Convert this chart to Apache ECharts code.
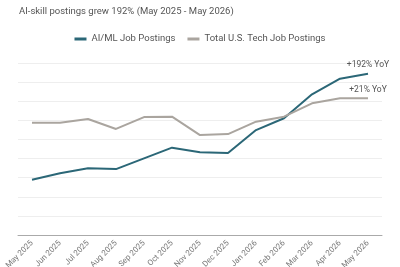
<!DOCTYPE html>
<html><head><meta charset="utf-8">
<script src="https://cdn.jsdelivr.net/npm/echarts@6/dist/echarts.min.js"></script>
<style>html,body{margin:0;padding:0;background:#fff}#c{width:400px;height:267px}</style>
</head><body><div id="c"></div>
<script>
const months = ['May 2025','Jun 2025','Jul 2025','Aug 2025','Sep 2025','Oct 2025','Nov 2025','Dec 2025','Jan 2026','Feb 2026','Mar 2026','Apr 2026','May 2026'];
const aiml = [2.89,3.23,3.49,3.45,4.01,4.57,4.33,4.29,5.49,6.11,7.36,8.18,8.44];
const total = [5.88,5.87,6.07,5.55,6.17,6.19,5.23,5.28,5.93,6.19,6.89,7.15,7.15];
const endLabels = ['+192% YoY','+21% YoY'];

function withEnd(arr, text){
  return arr.map((v,i)=> i===arr.length-1 ? {value:v,label:{show:true,position:'top',distance:4,formatter:text,color:'#555',fontSize:8.5,fontFamily:'Roboto'}} : v);
}
const chart = echarts.init(document.getElementById('c'));
chart.setOption({
  animation:false,
  title:{text:'AI-skill postings grew 192% (May 2025 - May 2026)',left:14,top:2,textStyle:{fontSize:9.5,fontWeight:'normal',color:'#555',fontFamily:'Roboto'}},
  legend:{top:29,left:'center',itemWidth:12,itemHeight:3,itemGap:12,textStyle:{fontSize:9.5,color:'#555',fontFamily:'Roboto'},
    data:[{name:'AI/ML Job Postings',icon:'rect'},{name:'Total U.S. Tech Job Postings',icon:'rect'}]},
  grid:{left:18,right:18,top:63,bottom:32,containLabel:false,outerBoundsMode:'none'},
  xAxis:{type:'category',data:months,boundaryGap:true,
    axisLine:{lineStyle:{color:'#aaa'}},axisTick:{show:false},
    axisLabel:{rotate:45,fontSize:8,color:'#777',margin:7,fontFamily:'Roboto',interval:0}},
  yAxis:{type:'value',min:0,max:9,interval:1,axisLabel:{show:false},axisLine:{show:false},axisTick:{show:false},
    splitLine:{lineStyle:{color:'#eeeeee'}}},
  series:[
    {name:'AI/ML Job Postings',type:'line',data:withEnd(aiml,endLabels[0]),symbol:'circle',symbolSize:0,showSymbol:true,lineStyle:{width:2,color:'#2b6777'},itemStyle:{color:'#2b6777'}},
    {name:'Total U.S. Tech Job Postings',type:'line',data:withEnd(total,endLabels[1]),symbol:'circle',symbolSize:0,showSymbol:true,lineStyle:{width:2,color:'#aaa59f'},itemStyle:{color:'#aaa59f'}}
  ]
});
</script></body></html>
